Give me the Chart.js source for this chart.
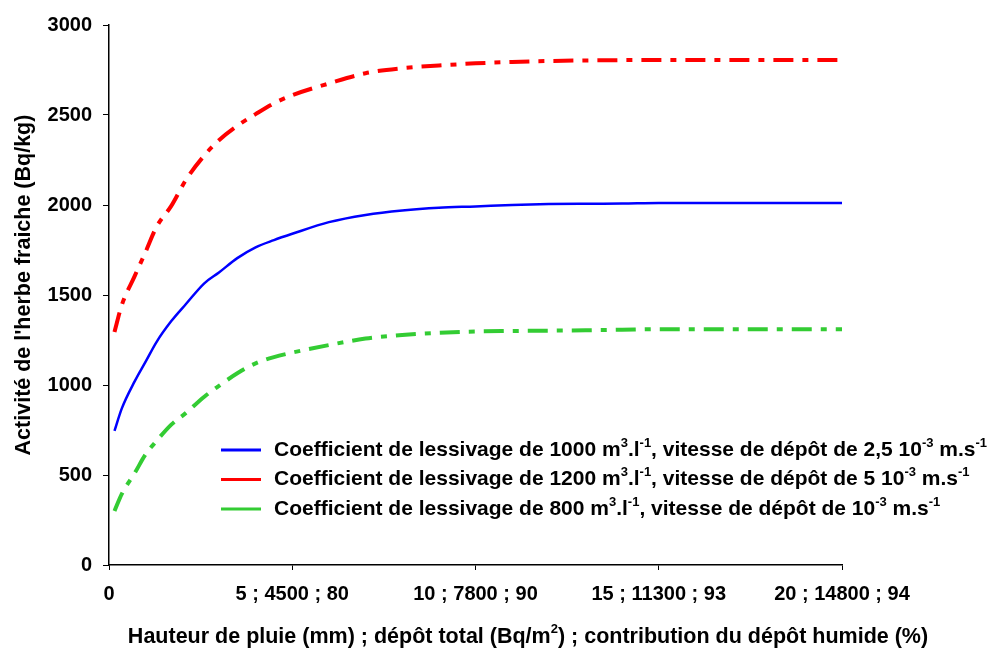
<!DOCTYPE html>
<html>
<head>
<meta charset="utf-8">
<script src="https://cdn.jsdelivr.net/npm/chart.js@4"></script>
<style>
  html, body { margin: 0; padding: 0; background: #fff; }
  #wrap { width: 993px; height: 653px; position: relative; }
</style>
</head>
<body>
<div id="wrap"><canvas id="chart"></canvas></div>
<script>
// rain height (mm) along the x axis
const rainMm = [0.15, 0.35, 0.7, 1, 1.3, 1.7, 2.1, 2.6, 3, 3.5, 4, 4.5, 5, 6, 7, 8, 9, 10, 11, 12, 13, 14, 15, 16, 17, 18, 19, 20];

// activity of fresh grass (Bq/kg)
const coef1000 = [745, 870, 1020, 1130, 1240, 1355, 1450, 1565, 1625, 1705, 1765, 1805, 1840, 1905, 1945, 1970, 1985, 1992, 2000, 2005, 2007, 2008, 2011, 2011, 2011, 2011, 2011, 2011];
const coef1200 = [1295, 1445, 1605, 1740, 1880, 1995, 2140, 2275, 2360, 2440, 2505, 2565, 2610, 2675, 2732, 2760, 2775, 2787, 2795, 2800, 2803, 2805, 2806, 2806, 2806, 2806, 2806, 2806];
const coef800 = [300, 395, 510, 615, 690, 780, 845, 935, 995, 1065, 1120, 1155, 1180, 1222, 1258, 1278, 1290, 1297, 1300, 1302, 1304, 1307, 1310, 1310, 1310, 1310, 1310, 1310];

const xTickValues = [0, 5, 10, 15, 20];
const xTickLabels = ['0', '5 ; 4500 ; 80', '10 ; 7800 ; 90', '15 ; 11300 ; 93', '20 ; 14800 ; 94'];

// ^ toggles superscript
const legendLabels = [
    'Coefficient de lessivage de 1000 m^3^.l^-1^, vitesse de dépôt de 2,5 10^-3^ m.s^-1^',
    'Coefficient de lessivage de 1200 m^3^.l^-1^, vitesse de dépôt de 5 10^-3^ m.s^-1^',
    'Coefficient de lessivage de 800 m^3^.l^-1^, vitesse de dépôt de 10^-3^ m.s^-1^'
];
const xTitle = 'Hauteur de pluie (mm) ; dépôt total (Bq/m^2^) ; contribution du dépôt humide (%)';
const yTitle = "Activité de l'herbe fraiche (Bq/kg)";

const FONT = '"Liberation Sans", Arial, sans-serif';
const toPoints = vals => vals.map((v, i) => ({ x: rainMm[i], y: v }));

function drawRich(ctx, text, x, y, size, align) {
    const parts = text.split('^');
    const fontFor = i => `bold ${i % 2 ? Math.round(size * 0.62) : size}px ${FONT}`;
    let total = 0;
    parts.forEach((p, i) => { ctx.font = fontFor(i); total += ctx.measureText(p).width; });
    let cx = align === 'center' ? x - total / 2 : x;
    ctx.textAlign = 'left';
    ctx.textBaseline = 'middle';
    parts.forEach((p, i) => {
        ctx.font = fontFor(i);
        ctx.fillText(p, cx, i % 2 ? y - size * 0.33 : y);
        cx += ctx.measureText(p).width;
    });
}

const extrasPlugin = {
    id: 'extras',
    afterDraw(chart) {
        const ctx = chart.ctx;
        ctx.save();
        ctx.fillStyle = '#000';
        // legend inside plot
        chart.data.datasets.forEach((ds, i) => {
            const y = 450 + i * 29.5;
            ctx.strokeStyle = ds.borderColor;
            ctx.lineWidth = 3;
            ctx.setLineDash([]);
            ctx.beginPath();
            ctx.moveTo(221, y);
            ctx.lineTo(261, y);
            ctx.stroke();
            ctx.fillStyle = '#000';
            drawRich(ctx, legendLabels[i], 274, y, 21, 'left');
        });
        // axis titles
        drawRich(ctx, xTitle, 528, 637, 21.5, 'center');
        ctx.translate(24, 285);
        ctx.rotate(-Math.PI / 2);
        drawRich(ctx, yTitle, 0, 0, 21.5, 'center');
        ctx.restore();
    }
};

const dash = [20, 9, 6, 9];

new Chart(document.getElementById('chart'), {
    type: 'line',
    data: {
        datasets: [
            { label: legendLabels[0], data: toPoints(coef1000), borderColor: '#0000ff', borderWidth: 2.5 },
            { label: legendLabels[1], data: toPoints(coef1200), borderColor: '#ff0000', borderWidth: 4, borderDash: dash },
            { label: legendLabels[2], data: toPoints(coef800), borderColor: '#33cc33', borderWidth: 4, borderDash: dash }
        ]
    },
    options: {
        responsive: true,
        maintainAspectRatio: false,
        animation: false,
        layout: { padding: { top: 25, right: 151, left: 0, bottom: 0 } },
        elements: {
            point: { radius: 0 },
            line: { cubicInterpolationMode: 'monotone', fill: false }
        },
        plugins: { legend: { display: false }, tooltip: { enabled: false } },
        scales: {
            x: {
                type: 'linear',
                min: 0,
                max: 20,
                afterFit: s => { s.height = 88; },
                afterBuildTicks: s => { s.ticks = xTickValues.map(v => ({ value: v })); },
                ticks: {
                    color: '#000',
                    padding: 12,
                    maxRotation: 0,
                    autoSkip: false,
                    font: { family: FONT, size: 20, weight: 'bold' },
                    callback: v => xTickLabels[xTickValues.indexOf(v)]
                },
                grid: { drawOnChartArea: false, tickLength: 5, color: '#000', lineWidth: 1 },
                border: { color: '#000', width: 1.5 }
            },
            y: {
                min: 0,
                max: 3000,
                afterFit: s => { s.width = 109; },
                ticks: {
                    stepSize: 500,
                    color: '#000',
                    padding: 11,
                    font: { family: FONT, size: 20, weight: 'bold' },
                    callback: v => String(v)
                },
                grid: { drawOnChartArea: false, tickLength: 6, color: '#000', lineWidth: 1 },
                border: { color: '#000', width: 1.5 }
            }
        }
    },
    plugins: [extrasPlugin]
});
</script>
</body>
</html>
